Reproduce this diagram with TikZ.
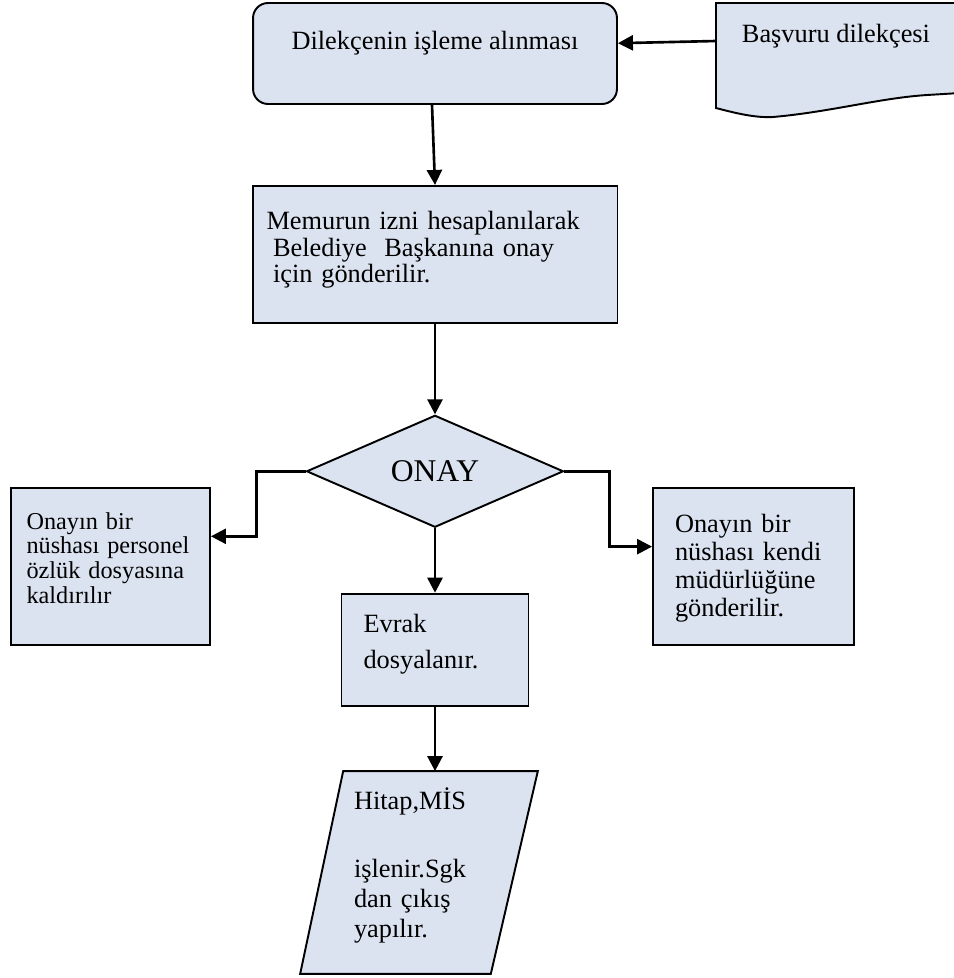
\documentclass[tikz,border=0pt]{standalone}
\usepackage{fontspec}
\setmainfont{Liberation Serif}
\usepackage{xcolor}
\usetikzlibrary{shapes.geometric, arrows.meta, positioning, calc, backgrounds}
\definecolor{boxfill}{RGB}{220,227,240}

\begin{document}
\begin{tikzpicture}[
    x=0.02cm, y=-0.02cm,
    box/.style={rectangle, draw, line width=1.1pt, fill=boxfill,
      inner sep=0pt, align=left, text height=0pt, font=\fontsize{15}{15}\selectfont},
    decision/.style={diamond, draw, line width=1.1pt, fill=boxfill,
      inner sep=0pt, minimum width=5.14cm, minimum height=2.24cm,
      font=\fontsize{18}{18}\selectfont},
    plain/.style={inner sep=0pt, align=left, font=\fontsize{15}{15}\selectfont},
    arr/.style={line width=1.5pt, -{Triangle[length=0.3cm, width=0.3cm]}}
]
\useasboundingbox (0,0) rectangle (954,978);

% belge
\draw[line width=1.1pt, fill=boxfill] (716,3) -- (960,3) -- (960,93) -- (927,95)
  .. controls (880,98) and (830,112) .. (773,117)
  .. controls (755,118) and (735,113) .. (716,108) -- cycle;
\node[plain, anchor=base] (dilekce) at (836,42) {Başvuru dilekçesi};
\coordinate (dilekcein) at (716,41);

\node[box, rounded corners=0.3cm, minimum width=7.28cm, minimum height=2.02cm,
  text depth=0.16cm] (start) at (435,53.5) {Dilekçenin işleme alınması};
\node[box, below=1.6cm of start, minimum width=7.3cm, minimum height=2.74cm,
  text width=6.74cm, text depth=0.98cm, font=\fontsize{15}{15.1}\selectfont] (memur)
  {Memurun izni hesaplanılarak\\\hspace*{0.13cm}Belediye\ \ Başkanına onay\\\hspace*{0.13cm}için gönderilir.};
\node[decision, below=1.81cm of memur] (onay) {ONAY};
\node[box, below=1.29cm of onay, minimum width=3.74cm, minimum height=2.24cm,
  text width=2.86cm, text depth=0.68cm, font=\fontsize{15}{20.5}\selectfont] (evrak)
  {Evrak\\dosyalanır.};
\node[plain, below=1.29cm of evrak, xshift=-0.32cm, minimum width=4.74cm,
  minimum height=4.04cm, text width=2.6cm, text height=0pt, text depth=2.5cm,
  font=\fontsize{15}{17}\selectfont] (hitap)
  {Hitap,MİS\\[0.76cm]işlenir.Sgk\\dan çıkış\\yapılır.};

\node[box, minimum width=3.98cm, minimum height=3.14cm, text width=3.36cm,
  text depth=1.5cm, font=\fontsize{13.8}{14.2}\selectfont] (kopya1) at (110.5,566.5)
  {Onayın bir\\nüshası personel\\özlük dosyasına\\kaldırılır};
\node[box, minimum width=4.02cm, minimum height=3.14cm, text width=3.14cm,
  text depth=1.38cm, font=\fontsize{15}{16.1}\selectfont] (kopya2) at (753.5,566.5)
  {Onayın bir\\nüshası kendi\\müdürlüğüne\\gönderilir.};

\begin{scope}[on background layer]
\draw[line width=1.1pt, fill=boxfill] ($(hitap.north west)+(43,0)$) -- (hitap.north east)
  -- ($(hitap.south east)+(-47,0)$) -- (hitap.south west) -- cycle;
\end{scope}

\draw[arr] (dilekcein) -- ($(start.north east)!0.4!(start.south east)$);
\draw[arr] ($(start.south)+(-3,0)$) -- (memur.north);
\draw[arr] (memur.south) -- (onay.north);
\draw[arr] (onay.west) -- ++(-49,0) |- ($(kopya1.north east)!0.31!(kopya1.south east)$);
\draw[arr] (onay.east) -- ++(45,0) |- ($(kopya2.north west)!0.375!(kopya2.south west)$);
\draw[arr] (onay.south) -- (evrak.north);
\draw[arr] (evrak.south) -- (evrak.south |- hitap.north);

\end{tikzpicture}
\end{document}
